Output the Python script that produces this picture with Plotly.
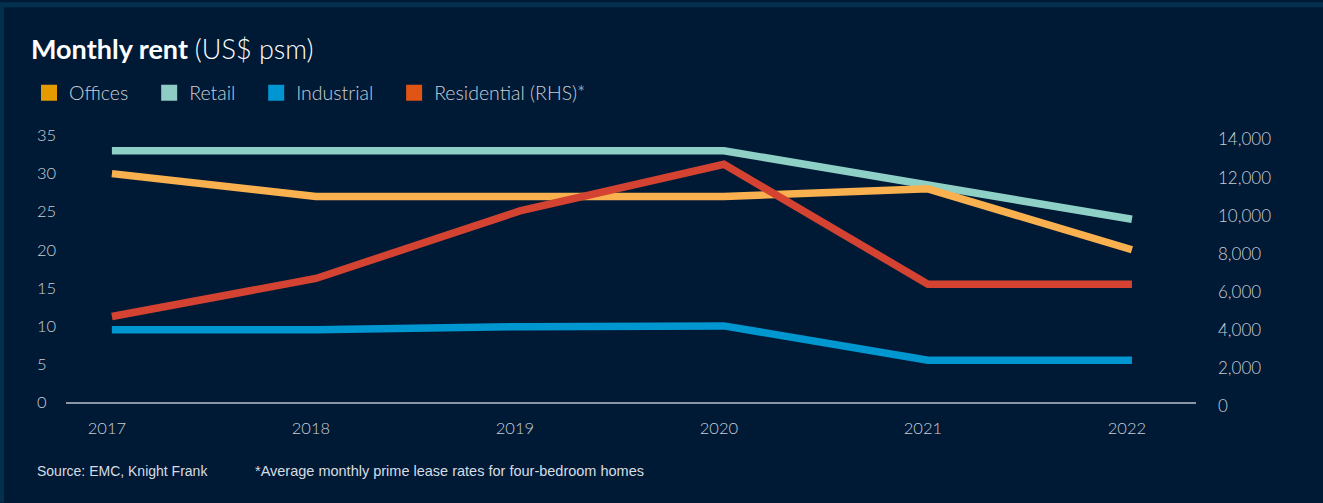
import plotly.graph_objects as go

years = [2017, 2018, 2019, 2020, 2021, 2022]
year_labels = ["2017", "2018", "2019", "2020", "2021", "2022"]
offices = [30, 27, 27, 27, 28, 20]
retail = [33, 33, 33, 33, 28.5, 24]
industrial = [9.5, 9.5, 9.9, 10, 5.5, 5.5]
residential = [4700, 6700, 10250, 12700, 6400, 6400]

left_ticks = [0, 5, 10, 15, 20, 25, 30, 35]
right_ticks = [0, 2000, 4000, 6000, 8000, 10000, 12000, 14000]
right_labels = ["0", "2,000", "4,000", "6,000", "8,000", "10,000", "12,000", "14,000"]

BG = "#001A36"
STRIP = "#03304C"
TXT = "#C9CED6"
FONT = "Lato"

W, H = 1323, 503
ML, MR, MT, MB = 20, 127, 134, 97
PW = W - ML - MR
PH = H - MT - MB

fig = go.Figure()

line_series = [
    ("Retail", retail, "#8ECFC6", "y"),
    ("Offices", offices, "#F9B04F", "y"),
    ("Industrial", industrial, "#0096D0", "y"),
    ("Residential (RHS)*", residential, "#D44331", "y2"),
]
for name, vals, col, ax in line_series:
    fig.add_trace(go.Scatter(x=years, y=vals, mode="lines", name=name,
                             line=dict(color=col, width=7.5), yaxis=ax,
                             showlegend=False, hoverinfo="x+y"))

legend_items = [
    ("Offices", "#E59A00"),
    ("Retail", "#8ECCC4"),
    ("Industrial", "#0096D2"),
    ("Residential (RHS)*", "#E05515"),
]
PAD = "\u00a0\u00a0\u00a0"
for name, col in legend_items:
    fig.add_trace(go.Scatter(x=[None], y=[None], mode="markers", name=name + PAD,
                             marker=dict(symbol="square", size=18, color=col),
                             showlegend=True))

x0 = (66 - ML) / PW
fig.update_layout(
    width=W, height=H, autosize=False,
    margin=dict(l=ML, r=MR, t=MT, b=MB, pad=0),
    paper_bgcolor=BG, plot_bgcolor="rgba(0,0,0,0)",
    font=dict(family=FONT, color=TXT, size=16),
    title=dict(text="<b>Monthly rent</b> <span style='font-weight:300'>(US$ psm)</span>",
               xref="container", yref="container", x=31 / W, y=1 - 50 / H,
               xanchor="left", yanchor="middle",
               font=dict(family=FONT, size=27, color="#FFFFFF")),
    legend=dict(orientation="h", xref="container", yref="container",
                x=29 / W, y=1 - 93 / H, xanchor="left", yanchor="middle",
                font=dict(family=FONT, size=19.5, color=TXT, weight=300),
                bgcolor="rgba(0,0,0,0)", itemclick=False, itemdoubleclick=False),
    xaxis=dict(domain=[x0, 1], range=[2016.775, 2022.314], tickvals=years,
               ticktext=year_labels, showgrid=False, zeroline=False,
               showline=True, linecolor="#8A95A5", linewidth=1.5,
               ticks="", ticklabelstandoff=10, ticklabelshift=-5,
               tickfont=dict(family=FONT, size=16.5, color=TXT, weight=300),
               anchor="y"),
    yaxis=dict(domain=[4 / PH, 1], range=[0, 35], tickvals=left_ticks,
               ticktext=[str(v) for v in left_ticks],
               side="right", anchor="free", position=(36 - ML) / PW,
               showgrid=False, zeroline=False, showline=False, ticks="",
               tickfont=dict(family=FONT, size=16.5, color=TXT, weight=300)),
    yaxis2=dict(domain=[0, 1 - 4 / PH], range=[0, 14000], tickvals=right_ticks,
                ticktext=right_labels, side="right", anchor="x",
                showgrid=False, zeroline=False, showline=False, ticks="",
                ticklabelstandoff=21,
                tickfont=dict(family=FONT, size=17, color=TXT, weight=300)),
    showlegend=True,
)

def px_x(p):
    return (p - ML) / PW

def px_y(p):
    return (H - MB - p) / PH

fig.add_shape(type="rect", xref="paper", yref="paper",
              x0=px_x(0), x1=px_x(W), y0=px_y(5), y1=px_y(0),
              fillcolor=STRIP, line_width=0, layer="below")
fig.add_shape(type="rect", xref="paper", yref="paper",
              x0=px_x(0), x1=px_x(4), y0=px_y(H), y1=px_y(0),
              fillcolor=STRIP, line_width=0, layer="below")

fig.add_annotation(text="Source: EMC, Knight Frank", xref="paper", yref="paper",
                   x=px_x(35), y=px_y(471), xanchor="left", yanchor="middle",
                   showarrow=False,
                   font=dict(family="Liberation Sans", size=14, color="#D8DCE2"))
fig.add_annotation(text="*Average monthly prime lease rates for four-bedroom homes",
                   xref="paper", yref="paper",
                   x=px_x(253), y=px_y(471), xanchor="left", yanchor="middle",
                   showarrow=False,
                   font=dict(family="Liberation Sans", size=14.5, color="#D8DCE2"))

fig.write_html("out.html",
               config={"displayModeBar": False},
               post_script="document.body.style.margin='0';document.body.style.padding='0';")
